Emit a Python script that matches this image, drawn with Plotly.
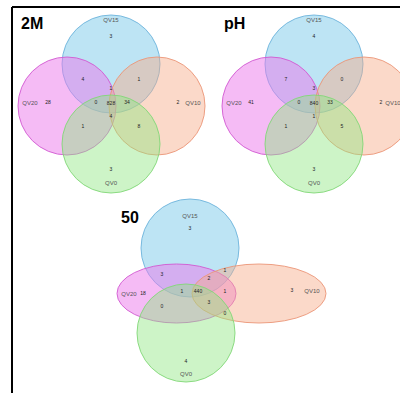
import plotly.graph_objects as go

# ---- data ----
sets = ["QV15", "QV20", "QV10", "QV0"]
regions = ["QV15", "QV20", "QV10", "QV0",
           "QV15&QV20", "QV15&QV10", "QV15&QV20&QV10", "QV20&QV0",
           "QV10&QV0", "QV15&QV20&QV0", "ALL", "QV15&QV10&QV0", "QV20&QV10&QV0"]
counts_2M = [3, 28, 2, 3, 4, 1, 1, 1, 8, 0, 828, 34, 4]
counts_pH = [4, 41, 2, 3, 7, 0, 3, 1, 5, 0, 840, 33, 1]
counts_50 = [3, 18, 3, 4, 3, 1, 2, 0, 0, 1, 440, 1, 3]
panel_titles = ["2M", "pH", "50"]

# ---- layout (pixel space) ----
W, H = 400, 393
colors = {
    "QV15": ("rgba(135,206,235,0.55)", "rgba(110,180,220,0.9)"),
    "QV20": ("rgba(235,120,235,0.5)", "rgba(210,90,210,0.9)"),
    "QV10": ("rgba(246,170,135,0.45)", "rgba(235,150,120,0.9)"),
    "QV0": ("rgba(144,230,130,0.45)", "rgba(130,215,120,0.9)"),
}

def std_layout(dx):
    shapes = {
        "QV15": (111 + dx, 64, 49, 49),
        "QV20": (67 + dx, 106, 49, 49),
        "QV10": (157 + dx, 106, 48, 49),
        "QV0": (111 + dx, 144, 49, 49),
    }
    set_lbl = {"QV15": (111 + dx, 20), "QV20": (30 + dx, 103),
               "QV10": (193 + dx, 103), "QV0": (111 + dx, 183)}
    reg_pos = [(111, 37), (48, 103), (178, 103), (111, 170),
               (83, 80), (139, 80), (111, 89), (83, 127),
               (139, 127), (96, 103), (111, 104), (127, 103), (111, 117)]
    reg_pos = [(x + dx, y) for x, y in reg_pos]
    return shapes, set_lbl, reg_pos

s1, l1, p1 = std_layout(0)
s2, l2, p2 = std_layout(203)
s2["QV20"] = (271, 106, 49, 49)
s2["QV10"] = (364, 106, 49, 49)
l2["QV20"] = (234, 103)
l2["QV10"] = (393, 103)
p2[1] = (251, 103)
p2[2] = (381, 103)

s3 = {
    "QV15": (190, 248, 49, 49),
    "QV20": (176.5, 293.5, 59.5, 29.5),
    "QV10": (259, 293.5, 67, 29.5),
    "QV0": (186, 333, 49, 49),
}
l3 = {"QV15": (190, 216), "QV20": (129, 294), "QV10": (312, 291), "QV0": (186, 374)}
p3 = [(190, 229), (143, 294), (292, 291), (186, 362),
      (162, 275), (225, 271), (209, 279), (162, 307),
      (225, 314), (182, 292), (198, 292), (225, 292), (209, 303)]

panels = [(s1, l1, p1, counts_2M, (19, 23)),
          (s2, l2, p2, counts_pH, (222, 23)),
          (s3, l3, p3, counts_50, (119, 217))]

fig = go.Figure()
shapes = []
for (sh, lbl, pos, counts, tpos), title in zip(panels, panel_titles):
    for name in ["QV15", "QV20", "QV10", "QV0"]:
        cx, cy, rx, ry = sh[name]
        fill, line = colors[name]
        shapes.append(dict(type="circle", xref="x", yref="y",
                           x0=cx - rx, x1=cx + rx, y0=cy - ry, y1=cy + ry,
                           fillcolor=fill, line=dict(color=line, width=1),
                           layer="below"))
    fig.add_trace(go.Scatter(
        x=[lbl[s][0] for s in sets], y=[lbl[s][1] for s in sets],
        mode="text", text=sets, cliponaxis=False,
        textfont=dict(family="Liberation Sans, Arial", size=6, color="#555555"),
        hoverinfo="skip", showlegend=False))
    fig.add_trace(go.Scatter(
        x=[p[0] for p in pos], y=[p[1] for p in pos],
        mode="text", text=[str(c) for c in counts],
        textfont=dict(family="Liberation Sans, Arial", size=5, color="#222222"),
        hoverinfo="skip", showlegend=False))
    fig.add_annotation(x=tpos[0], y=tpos[1], xref="x", yref="y",
                       text="<b>%s</b>" % title, showarrow=False,
                       xanchor="left", yanchor="middle",
                       font=dict(family="Liberation Sans, Arial", size=16, color="black"))

shapes.append(dict(type="line", xref="x", yref="y", x0=12, x1=400, y0=7, y1=7,
                   line=dict(color="black", width=2)))
shapes.append(dict(type="line", xref="x", yref="y", x0=12, x1=12, y0=7, y1=393,
                   line=dict(color="black", width=2)))

fig.update_layout(
    width=W, height=H, margin=dict(l=0, r=0, t=0, b=0),
    paper_bgcolor="white", plot_bgcolor="white",
    xaxis=dict(range=[0, W], visible=False, fixedrange=True),
    yaxis=dict(range=[H, 0], visible=False, fixedrange=True),
    shapes=shapes,
)
fig.write_html("out.html", config={"displayModeBar": False},
               post_script="document.body.style.margin='0';document.body.style.overflow='hidden';")
